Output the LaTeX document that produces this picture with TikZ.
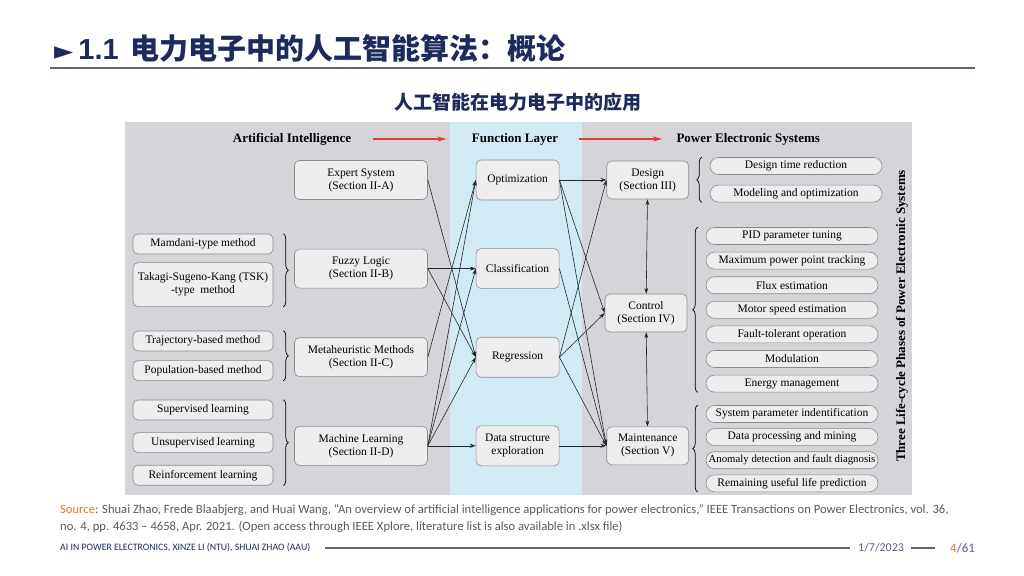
\documentclass[tikz,border=0pt]{standalone}
\usepackage{fontspec}
\setmainfont{Liberation Serif}
\newfontfamily\cjk{Noto Sans CJK SC}
\newfontfamily\slidefont{Carlito}
\newfontfamily\symfont{DejaVu Sans}
\newfontfamily\headsans{Liberation Sans}
\usetikzlibrary{arrows.meta,positioning,decorations.pathreplacing}
\definecolor{SlideNavy}{HTML}{1F2A5C}
\definecolor{SlideRule}{HTML}{5C5F8C}
\definecolor{SlideOrange}{HTML}{D97A2B}
\definecolor{SlideGray}{HTML}{595959}
\definecolor{PanelGray}{HTML}{D5D5D9}
\definecolor{BandBlue}{HTML}{D0EBF3}
\definecolor{BoxFill}{HTML}{EDEDEE}
\definecolor{BoxLine}{HTML}{8C8C90}
\definecolor{FlowRed}{HTML}{E53935}

\begin{document}
\begin{tikzpicture}[x=1pt,y=-1pt,node distance=8pt]
    \tikzset{box/.style={rounded corners=5pt,fill=BoxFill,draw=BoxLine,line width=0.6pt,align=center,inner sep=1pt,font=\fontsize{11.5}{13}\selectfont},
      leaf/.style={box,minimum width=140pt,minimum height=20pt},
      ai/.style={box,minimum width=133pt,minimum height=39pt},
      func/.style={box,minimum width=83pt,minimum height=40pt},
      phase/.style={box,minimum width=82pt,minimum height=38pt},
      pill/.style={box,rounded corners=8.5pt,minimum width=172pt,minimum height=17pt},
      head/.style={font=\fontsize{13}{15}\selectfont\bfseries},
      link/.style={-{Stealth[length=6pt,width=4pt]},line width=0.6pt,black!85},
      both/.style={{Stealth[length=6pt,width=4pt]}-{Stealth[length=6pt,width=4pt]},line width=0.6pt,black!85},
      flow/.style={-{Stealth[length=9pt,width=5pt]},line width=1.2pt,FlowRed},
      grp/.style={decorate,decoration={brace,amplitude=5pt},line width=0.7pt}}
    \useasboundingbox (0,0) rectangle (1024,575);
    % slide title
    \node[anchor=west,inner sep=0pt,text=SlideNavy] (title) at (54,48) {{\fontsize{25}{28}\selectfont\symfont ►}\hspace{5pt}{\fontsize{29}{32}\selectfont\headsans\bfseries 1.1\hspace{12pt}\cjk 电力电子中的人工智能算法：概论}};
    \draw[SlideRule,line width=2pt] (50,68) -- (975,68);
    \node[text=SlideNavy,font=\fontsize{19}{22}\selectfont\cjk\bfseries] (sub) at (518,102) {人工智能在电力电子中的应用};
    % panels
    \fill[PanelGray] (125,122) rectangle (912,495);
    \fill[BandBlue] (450,122) rectangle (582,495);
    \node[head] (hai) at (292,139) {Artificial Intelligence};
    \node[head] (hfn) at (515,139) {Function Layer};
    \node[head,anchor=west] (hpe) at (673,139) {Power Electronic Systems};
    \draw[flow] (hai.east) ++(18pt,0) coordinate (f1) -- ([xshift=-22pt]hfn.west);
    \draw[flow] ([xshift=17pt]hfn.east) -- ([xshift=-11pt]hpe.west);
    % left column
    \node[leaf] (mam) at (203,244) {Mamdani-type method};
    \node[leaf,minimum height=44pt,below=of mam] (tsk) {Takagi-Sugeno-Kang (TSK)\\-type~~method};
    \node[leaf] (traj) at (203,341) {Trajectory-based method};
    \node[leaf,below=9pt of traj] (pop) {Population-based method};
    \node[leaf] (sup) at (203,410) {Supervised learning};
    \node[leaf,below=12pt of sup] (uns) {Unsupervised learning};
    \node[leaf,below=12pt of uns] (rein) {Reinforcement learning};
    \draw[grp] ([xshift=10pt]mam.north east) -- ([xshift=10pt]tsk.south east);
    \draw[grp] ([xshift=10pt]traj.north east) -- ([xshift=10pt]pop.south east);
    \draw[grp] ([xshift=10pt]sup.north east) -- ([xshift=10pt]rein.south east);
    % ai methods
    \node[ai] (es) at (361,180) {Expert System\\(Section II-A)};
    \node[ai,below=49pt of es] (fl) {Fuzzy Logic\\(Section II-B)};
    \node[ai,below=49pt of fl] (mh) {Metaheuristic Methods\\(Section II-C)};
    \node[ai,below=49pt of mh] (ml) {Machine Learning\\(Section II-D)};
    % function layer
    \node[func,right=48pt of es] (opt) {Optimization};
    \node[func,right=48pt of fl] (cls) {Classification};
    \node[func,right=48pt of mh] (reg) {Regression};
    \node[func,right=48pt of ml] (dse) {Data structure\\exploration};
    % life-cycle phases
    \node[phase,right=47pt of opt] (des) {Design\\(Section III)};
    \node[phase] (ctl) at (646,313) {Control\\(Section IV)};
    \node[phase,right=47pt of dse] (mnt) {Maintenance\\(Section V)};
    \draw[both] (des) -- (ctl);
    \draw[both] (ctl) -- (mnt);
    % right column
    \node[pill] (dtr) at (796,166) {Design time reduction};
    \node[pill,below=10pt of dtr] (mod) {Modeling and optimization};
    \node[pill] (pid) at (792,236) {PID parameter tuning};
    \node[pill,below=7pt of pid] (mppt) {Maximum power point tracking};
    \node[pill,below=7pt of mppt] (flux) {Flux estimation};
    \node[pill,below=7pt of flux] (mse) {Motor speed estimation};
    \node[pill,below=7pt of mse] (fto) {Fault-tolerant operation};
    \node[pill,below=7pt of fto] (modu) {Modulation};
    \node[pill,below=7pt of modu] (em) {Energy management};
    \node[pill] (spi) at (792,414) {System parameter indentification};
    \node[pill,below=5.5pt of spi] (dpm) {Data processing and mining};
    \node[pill,below=5.5pt of dpm,font=\fontsize{10.8}{12}\selectfont] (adf) {Anomaly detection and fault diagnosis};
    \node[pill,below=5.5pt of adf] (rul) {Remaining useful life prediction};
    \draw[grp] ([xshift=-8pt]mod.south west) -- ([xshift=-8pt]dtr.north west);
    \draw[grp] ([xshift=-8pt]em.south west) -- ([xshift=-8pt]pid.north west);
    \draw[grp] ([xshift=-8pt]rul.south west) -- ([xshift=-8pt]spi.north west);
    \node[head,rotate=90] (phases) at (902,316) {Three Life-cycle Phases of Power Electronic Systems};
    % ai -> function
    \draw[link] (es.east) -- (reg.west);
    \draw[link] (fl.east) -- (cls.west);
    \draw[link] (fl.east) -- (reg.west);
    \draw[link] (mh.east) -- (opt.west);
    \draw[link] (ml.east) -- (opt.west);
    \draw[link] (ml.east) -- (cls.west);
    \draw[link] (ml.east) -- (reg.west);
    \draw[link] (ml.east) -- (dse.west);
    % function -> phases
    \draw[link] (opt.east) -- (des.west);
    \draw[link] (opt.east) -- (ctl.west);
    \draw[link] (opt.east) -- (mnt.west);
    \draw[link] (cls.east) -- (mnt.west);
    \draw[link] (reg.east) -- (des.west);
    \draw[link] (reg.east) -- (ctl.west);
    \draw[link] (reg.east) -- (mnt.west);
    \draw[link] (dse.east) -- (mnt.west);
    % source and footer
    \node[anchor=north west,align=left,inner sep=0pt,text=SlideGray,font=\fontsize{12.6}{17}\selectfont\slidefont] (src) at (60,504) {\textcolor{SlideOrange}{Source}: Shuai Zhao, Frede Blaabjerg, and Huai Wang, “An overview of artificial intelligence applications for power electronics,” IEEE Transactions on Power Electronics, vol. 36,\\no. 4, pp. 4633 – 4658, Apr. 2021. (Open access through IEEE Xplore, literature list is also available in .xlsx file)};
    \node[anchor=west,inner sep=0pt,text=SlideNavy,font=\fontsize{9.8}{11}\selectfont\slidefont] (foot) at (60,548) {AI IN POWER ELECTRONICS, XINZE LI (NTU), SHUAI ZHAO (AAU)};
    \node[anchor=west,inner sep=0pt,text=SlideRule,font=\fontsize{12}{14}\selectfont\slidefont] (date) at (858,548) {1/7/2023};
    \node[anchor=west,inner sep=0pt,text=SlideRule,font=\fontsize{13}{14}\selectfont\slidefont] (page) at (950,548) {\textcolor{SlideOrange}{4}/61};
    \draw[SlideRule,line width=1.2pt] ([xshift=15pt]foot.east) -- ([xshift=-8pt]date.west);
    \draw[SlideRule,line width=1.2pt] ([xshift=7pt]date.east) -- ([xshift=-15pt]page.west);
  \end{tikzpicture}
\end{document}
